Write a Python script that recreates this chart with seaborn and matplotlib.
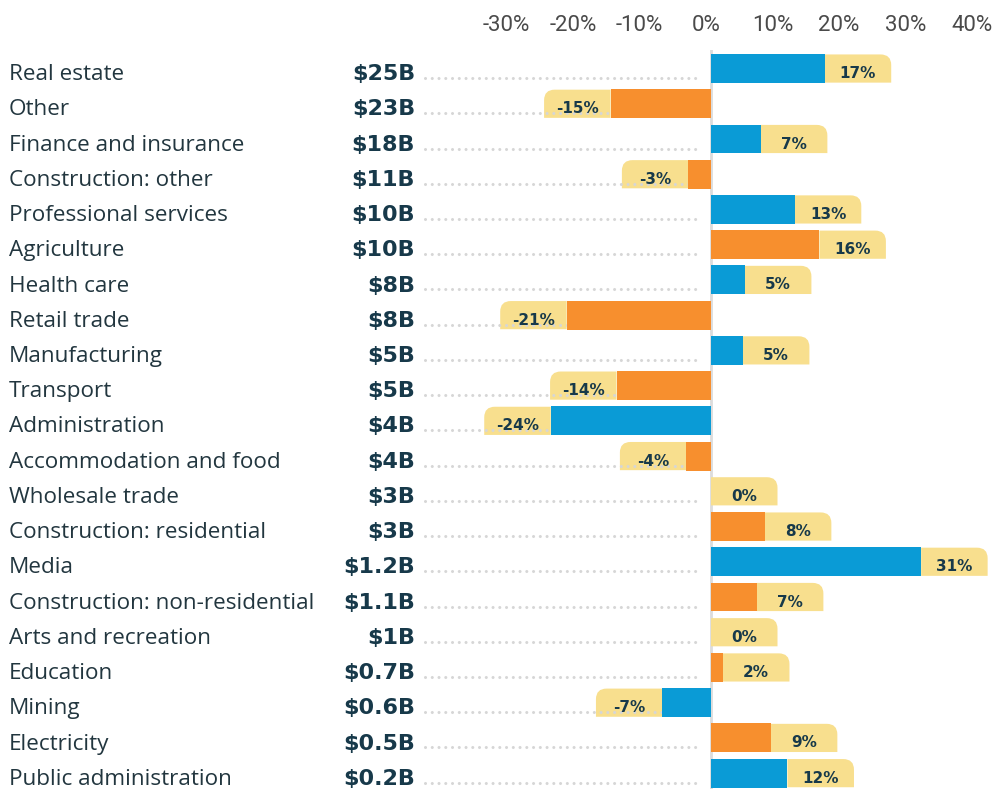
import numpy as np
import pandas as pd
import seaborn as sns
import matplotlib.pyplot as plt
import matplotlib.transforms as mtransforms
from matplotlib.path import Path
from matplotlib.patches import PathPatch

# --- data ---
sectors = ["Real estate", "Other", "Finance and insurance", "Construction: other",
           "Professional services", "Agriculture", "Health care", "Retail trade",
           "Manufacturing", "Transport", "Administration", "Accommodation and food",
           "Wholesale trade", "Construction: residential", "Media",
           "Construction: non-residential", "Arts and recreation", "Education",
           "Mining", "Electricity", "Public administration"]
sizes = ["$25B", "$23B", "$18B", "$11B", "$10B", "$10B", "$8B", "$8B", "$5B", "$5B",
         "$4B", "$4B", "$3B", "$3B", "$1.2B", "$1.1B", "$1B", "$0.7B", "$0.6B",
         "$0.5B", "$0.2B"]
change = [17.1, -15.1, 7.5, -3.4, 12.6, 16.3, 5.1, -21.7, 4.8, -14.2, -24.1, -3.7,
          0.0, 8.1, 31.6, 6.9, 0.0, 1.8, -7.3, 9.0, 11.5]
labels = ["17%", "-15%", "7%", "-3%", "13%", "16%", "5%", "-21%", "5%", "-14%",
          "-24%", "-4%", "0%", "8%", "31%", "7%", "0%", "2%", "-7%", "9%", "12%"]
group = ["a", "b", "a", "b", "a", "b", "a", "b", "a", "b", "a", "b",
         "a", "b", "a", "b", "a", "b", "a", "b", "a"]

BLUE = "#0a9bd6"
ORANGE = "#f78f2e"
YELLOW = "#f8df8e"
NAVY = "#17394a"
TEXT = "#22363f"

df = pd.DataFrame({"sector": sectors, "change": change, "group": group})

fig = plt.figure(figsize=(10.02, 7.89), dpi=100)
ax = fig.add_axes([0, 0, 1, 1 - 50 / 789])

sns.barplot(data=df, x="change", y="sector", hue="group",
            palette={"a": BLUE, "b": ORANGE}, dodge=False, legend=False,
            width=0.82, saturation=1, orient="h", ax=ax, zorder=4)

PX = 6.65  # pixels per percentage point
ax.set_xlim(-711 / PX, (1002 - 711) / PX)
ax.set_ylim(20.45, -0.526)

# label boxes with one rounded outer corner
h = 0.8
rx, ry = 1.6, 0.3
for i, v in enumerate(change):
    d = 1 if v >= 0 else -1
    x0, x1 = v, v + d * 10
    yt, yb = i - h / 2, i + h / 2
    verts = [(x0, yb), (x1, yb), (x1, yt + ry), (x1, yt), (x1 - d * rx, yt),
             (x0, yt), (x0, yb)]
    codes = [Path.MOVETO, Path.LINETO, Path.LINETO, Path.CURVE3, Path.CURVE3,
             Path.LINETO, Path.CLOSEPOLY]
    ax.add_patch(PathPatch(Path(verts, codes), facecolor=YELLOW, edgecolor="none",
                           zorder=2))
    ax.text((x0 + x1) / 2, i + 0.27, labels[i], ha="center", va="baseline",
            fontsize=11, fontweight="bold", color=NAVY, zorder=5)

# dotted leader lines
for i in range(len(sectors)):
    ax.plot([(425 - 711) / PX, (697 - 711) / PX], [i + 0.27, i + 0.27],
            color="#d6d6d6", lw=2.2, linestyle=(0, (0.01, 2.2)),
            dash_capstyle="round", zorder=3)

# category and size labels
trans = mtransforms.blended_transform_factory(fig.transFigure, ax.transData)
for i, (s, z) in enumerate(zip(sectors, sizes)):
    ax.text(9 / 1002, i + 0.33, s, transform=trans, ha="left", va="baseline",
            fontsize=16.2, color=TEXT, family="Open Sans")
    ax.text(415 / 1002, i + 0.33, z, transform=trans, ha="right", va="baseline",
            fontsize=16, fontweight="bold", color=NAVY)

ax.axvline(0, color="#dcdcdc", lw=2, zorder=1)

ticks = list(range(-30, 41, 10))
ax.xaxis.tick_top()
ax.set_xticks(ticks)
ax.set_xticklabels([f"{t}%" for t in ticks], fontsize=16, color="#4a4a4a",
                   family="Roboto")
ax.tick_params(axis="x", length=0, pad=10)
for lab in ax.get_xticklabels():
    lab.set_transform(lab.get_transform() +
                      mtransforms.ScaledTranslation(-5 / 100, 0, fig.dpi_scale_trans))
ax.set_yticks([])
ax.set_xlabel("")
ax.set_ylabel("")
for sp in ax.spines.values():
    sp.set_visible(False)

fig.savefig("out.png", dpi=100)
